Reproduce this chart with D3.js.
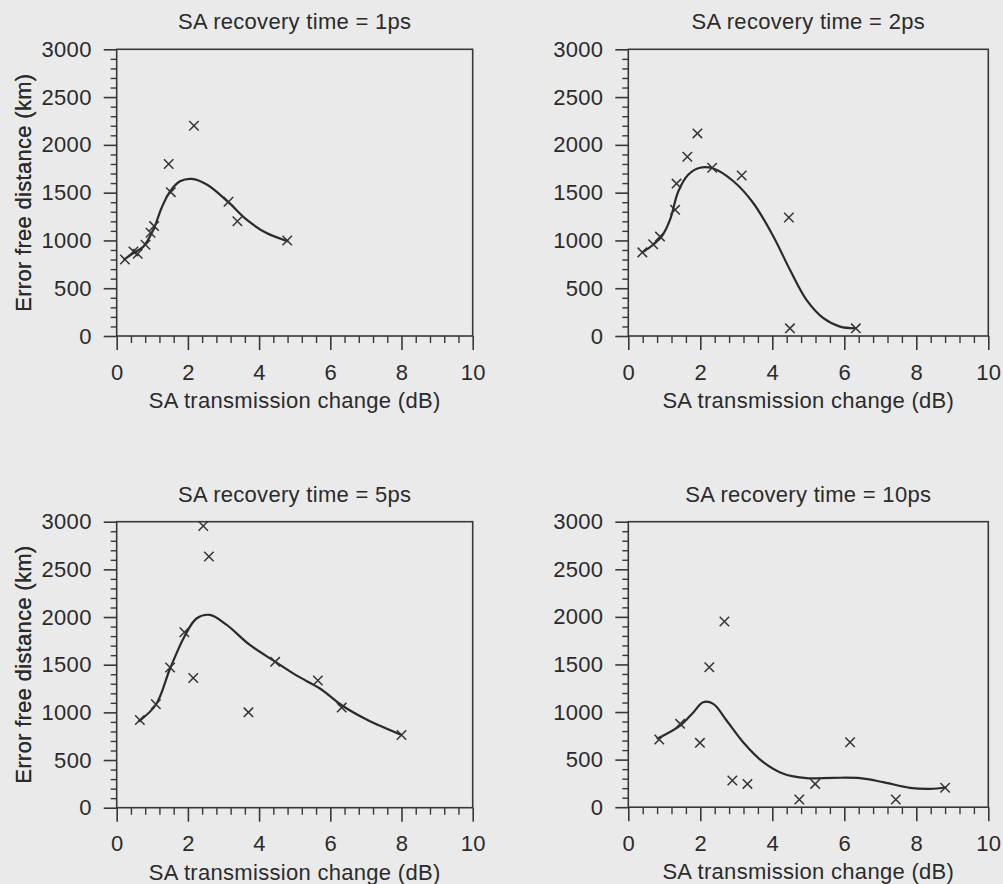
<!DOCTYPE html>
<html>
<head>
<meta charset="utf-8">
<script src="https://cdn.jsdelivr.net/npm/d3@7"></script>
<style>
  html, body { margin: 0; padding: 0; background: #eaeaea; }
  svg { display: block; }
  text { font-family: "Liberation Sans", Arial, Helvetica, sans-serif; fill: #2b2b2b; letter-spacing: 0.3px; }
</style>
</head>
<body>
<svg id="chart" width="1003" height="884"></svg>
<script>
// Panel titles
const titles = [
  "SA recovery time = 1ps",
  "SA recovery time = 2ps",
  "SA recovery time = 5ps",
  "SA recovery time = 10ps"
];

// Axis text
const xAxisTitle = "SA transmission change (dB)";
const yAxisTitle = "Error free distance (km)";
const xTicks = [0, 2, 4, 6, 8, 10];
const yTicks = [0, 500, 1000, 1500, 2000, 2500, 3000];

// Measured points: SA transmission change (dB) and error free distance (km)
const pts1x = [0.23, 0.47, 0.59, 0.81, 0.95, 1.05, 1.46, 1.52, 2.17, 3.14, 3.39, 4.79];
const pts1y = [800, 885, 860, 955, 1080, 1150, 1800, 1505, 2200, 1405, 1200, 1000];

const pts2x = [0.39, 0.69, 0.88, 1.30, 1.34, 1.64, 1.92, 2.33, 3.15, 4.46, 4.49, 6.32];
const pts2y = [875, 960, 1040, 1320, 1595, 1875, 2120, 1760, 1680, 1240, 80, 80];

const pts3x = [0.65, 1.10, 1.50, 1.90, 2.15, 2.43, 2.59, 3.70, 4.45, 5.65, 6.32, 8.00];
const pts3y = [920, 1085, 1470, 1840, 1360, 2955, 2635, 1000, 1530, 1335, 1050, 763];

const pts4x = [0.86, 1.44, 1.99, 2.25, 2.67, 2.89, 3.31, 4.75, 5.19, 6.16, 7.43, 8.80];
const pts4y = [711, 876, 676, 1471, 1951, 280, 245, 81, 245, 683, 81, 204];

// Fitted trend curves
const fit1x = [0.19, 0.47, 0.75, 1.03, 1.26, 1.50, 1.78, 2.11, 2.53, 3.13, 3.65, 4.21, 4.82];
const fit1y = [797, 868, 937, 1112, 1340, 1514, 1619, 1644, 1585, 1403, 1217, 1077, 990];

const fit2x = [0.39, 0.69, 0.93, 1.16, 1.39, 1.67, 1.99, 2.36, 2.92, 3.47, 4.03, 4.49, 4.95, 5.42, 5.88, 6.30];
const fit2y = [874, 955, 1042, 1217, 1514, 1689, 1760, 1752, 1619, 1392, 1042, 693, 378, 186, 98, 81];

const fit3x = [0.61, 1.10, 1.50, 1.90, 2.25, 2.62, 3.09, 3.74, 4.45, 5.06, 5.71, 6.32, 7.02, 8.00];
const fit3y = [903, 1080, 1460, 1794, 1987, 2022, 1917, 1707, 1532, 1385, 1250, 1075, 925, 763];

const fit4x = [0.79, 1.44, 1.81, 2.08, 2.36, 2.73, 3.19, 3.75, 4.31, 4.95, 5.69, 6.44, 7.08, 7.82, 8.38, 8.84];
const fit4y = [718, 858, 998, 1103, 1086, 911, 683, 473, 351, 305, 309, 305, 263, 204, 193, 210];

const points = [[pts1x, pts1y], [pts2x, pts2y], [pts3x, pts3y], [pts4x, pts4y]];
const fits = [[fit1x, fit1y], [fit2x, fit2y], [fit3x, fit3y], [fit4x, fit4y]];

// Plot frames (pixel layout of the 2x2 grid)
const frames = [
  { left: 116.7, top: 49.3, width: 356, height: 286.7 },
  { left: 628.3, top: 49.3, width: 360, height: 286.7 },
  { left: 116.7, top: 521.7, width: 356, height: 286 },
  { left: 628.3, top: 521.7, width: 360, height: 285.5 }
];

const ink = "#383838";
const fontSize = 22;
const svg = d3.select("#chart");

frames.forEach((f, i) => {
  const g = svg.append("g").attr("transform", `translate(${f.left},${f.top})`);
  const x = d3.scaleLinear().domain([0, 10]).range([0, f.width]);
  const y = d3.scaleLinear().domain([0, 3000]).range([f.height, 0]);

  // frame
  g.append("rect")
    .attr("width", f.width).attr("height", f.height)
    .attr("fill", "none").attr("stroke", ink).attr("stroke-width", 1.6);

  // minor ticks
  const xMinor = d3.range(0, 10.001, 0.4).filter(v => Math.abs(v / 2 - Math.round(v / 2)) > 1e-6);
  const yMinor = d3.range(0, 3001, 100).filter(v => v % 500 !== 0);

  g.append("g").attr("transform", `translate(0,${f.height})`)
    .call(d3.axisBottom(x).tickValues(xMinor).tickSize(7).tickFormat(""))
    .call(a => a.select(".domain").remove())
    .call(a => a.selectAll("line").attr("stroke", ink).attr("stroke-width", 1.4));

  g.append("g")
    .call(d3.axisLeft(y).tickValues(yMinor).tickSize(6).tickFormat(""))
    .call(a => a.select(".domain").remove())
    .call(a => a.selectAll("line").attr("stroke", ink).attr("stroke-width", 1.4));

  // major ticks with labels
  g.append("g").attr("transform", `translate(0,${f.height})`)
    .call(d3.axisBottom(x).tickValues(xTicks).tickSize(14).tickPadding(14).tickFormat(d3.format("d")))
    .call(a => a.select(".domain").remove())
    .call(a => a.selectAll("line").attr("stroke", ink).attr("stroke-width", 1.6))
    .call(a => a.selectAll("text").attr("font-size", fontSize).attr("fill", "#2b2b2b")
      .style("font-family", '"Liberation Sans", Arial, sans-serif'));

  g.append("g")
    .call(d3.axisLeft(y).tickValues(yTicks).tickSize(13).tickPadding(12).tickFormat(d3.format("d")))
    .call(a => a.select(".domain").remove())
    .call(a => a.selectAll("line").attr("stroke", ink).attr("stroke-width", 1.6))
    .call(a => a.selectAll("text").attr("font-size", fontSize).attr("fill", "#2b2b2b")
      .style("font-family", '"Liberation Sans", Arial, sans-serif'));

  // title
  g.append("text")
    .attr("x", f.width / 2).attr("y", -20)
    .attr("text-anchor", "middle").attr("font-size", fontSize)
    .text(titles[i]);

  // x axis title
  g.append("text")
    .attr("x", f.width / 2).attr("y", f.height + 72)
    .attr("text-anchor", "middle").attr("font-size", fontSize)
    .text(xAxisTitle);

  // y axis title
  g.append("text")
    .attr("transform", `translate(${-f.left + 31},${f.height / 2}) rotate(-90)`)
    .attr("text-anchor", "middle").attr("font-size", fontSize)
    .text(yAxisTitle);

  // fitted curve
  const [fx, fy] = fits[i];
  const fitData = fx.map((v, k) => [v, fy[k]]);
  g.append("path")
    .datum(fitData)
    .attr("fill", "none").attr("stroke", "#2a2a2a").attr("stroke-width", 2.2)
    .attr("d", d3.line().x(d => x(d[0])).y(d => y(d[1])).curve(d3.curveCatmullRom.alpha(0.5)));

  // measured points as crosses
  const [px, py] = points[i];
  const ptData = px.map((v, k) => [v, py[k]]);
  g.selectAll(".pt").data(ptData).join("path")
    .attr("class", "pt")
    .attr("transform", d => `translate(${x(d[0])},${y(d[1])})`)
    .attr("d", d3.symbol().type(d3.symbolX).size(60))
    .attr("fill", "none").attr("stroke", "#333").attr("stroke-width", 1.5);
});
</script>
</body>
</html>
